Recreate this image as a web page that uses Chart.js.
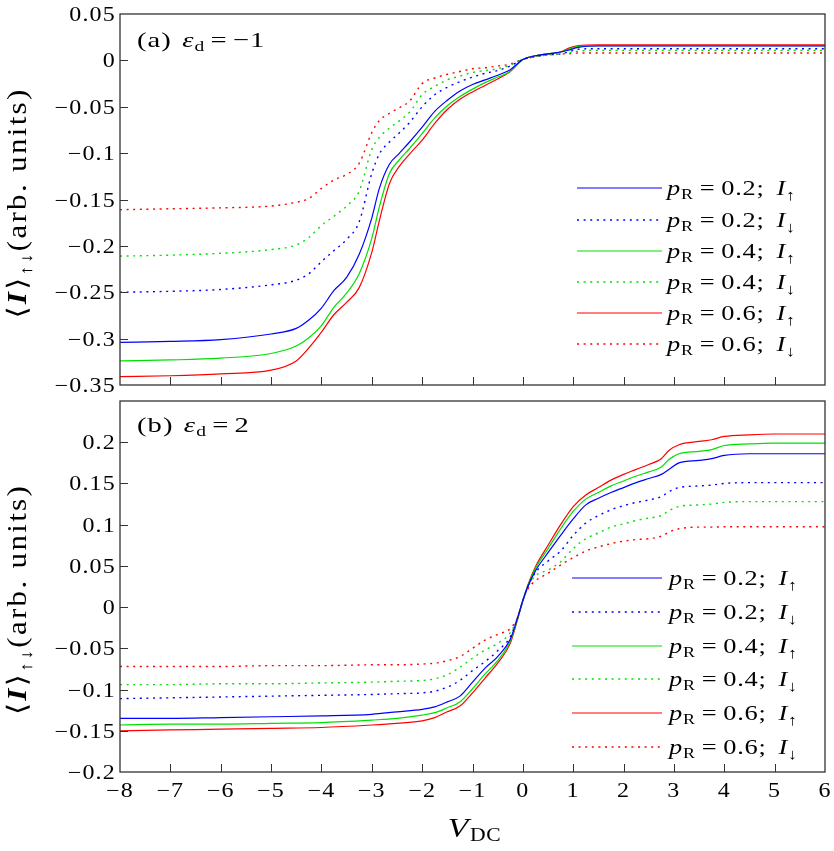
<!DOCTYPE html>
<html>
<head>
<meta charset="utf-8">
<script src="https://cdn.jsdelivr.net/npm/chart.js@4.4.1/dist/chart.umd.min.js"></script>
<style>
  body { margin: 0; background: #fff; }
  canvas { position: absolute; left: 0; }
</style>
</head>
<body>
<canvas id="chartA" width="834" height="395" style="top:0"></canvas>
<canvas id="chartB" width="834" height="456" style="top:395px"></canvas>
<script>
// ---- data ----
const pRValues = [0.2, 0.4, 0.6];
const spins = ['\u2191', '\u2193'];

// panel (a): eps_d = -1
const vdcA = [-8, -7, -6, -5, -4.5, -4.25, -4, -3.75, -3.5, -3.25, -3, -2.85, -2.65, -2.45, -2.25, -2,
  -1.75, -1.5, -1.25, -1, -0.75, -0.5, -0.25, 0, 0.25, 0.5, 0.75, 0.9, 1.1, 1.5, 2, 3, 4, 5, 6];
const aUp02 = [-0.304, -0.303, -0.301, -0.295, -0.289, -0.280, -0.267, -0.248, -0.234, -0.209, -0.170, -0.138, -0.112, -0.100, -0.088, -0.072,
  -0.055, -0.043, -0.033, -0.026, -0.021, -0.016, -0.010, 0.001, 0.005, 0.007, 0.009, 0.011, 0.014, 0.0155, 0.0155, 0.0155, 0.0155, 0.0155, 0.0155];
const aDn02 = [-0.250, -0.249, -0.247, -0.242, -0.237, -0.230, -0.217, -0.205, -0.193, -0.174, -0.122, -0.101, -0.088, -0.078, -0.067, -0.050,
  -0.037, -0.029, -0.023, -0.018, -0.014, -0.011, -0.006, 0.001, 0.004, 0.006, 0.007, 0.009, 0.012, 0.0126, 0.0126, 0.0126, 0.0126, 0.0126, 0.0126];
const aUp04 = [-0.324, -0.323, -0.321, -0.316, -0.308, -0.299, -0.286, -0.266, -0.251, -0.230, -0.192, -0.158, -0.122, -0.107, -0.095, -0.079,
  -0.062, -0.049, -0.039, -0.031, -0.024, -0.018, -0.012, 0.001, 0.005, 0.007, 0.009, 0.012, 0.015, 0.016, 0.016, 0.016, 0.016, 0.016, 0.016];
const aDn04 = [-0.211, -0.210, -0.208, -0.204, -0.199, -0.191, -0.178, -0.168, -0.157, -0.141, -0.096, -0.083, -0.073, -0.065, -0.056, -0.037,
  -0.028, -0.021, -0.017, -0.013, -0.011, -0.009, -0.005, 0.001, 0.004, 0.006, 0.007, 0.008, 0.010, 0.0108, 0.0108, 0.0108, 0.0108, 0.0108, 0.0108];
const aUp06 = [-0.341, -0.340, -0.338, -0.334, -0.324, -0.310, -0.293, -0.274, -0.261, -0.245, -0.207, -0.173, -0.133, -0.114, -0.101, -0.086,
  -0.068, -0.053, -0.042, -0.034, -0.027, -0.020, -0.012, 0.001, 0.005, 0.007, 0.009, 0.013, 0.016, 0.0168, 0.0168, 0.0168, 0.0168, 0.0168, 0.0168];
const aDn06 = [-0.161, -0.160, -0.159, -0.157, -0.153, -0.149, -0.138, -0.129, -0.123, -0.111, -0.078, -0.065, -0.057, -0.051, -0.044, -0.025,
  -0.019, -0.015, -0.012, -0.009, -0.008, -0.006, -0.004, 0.001, 0.004, 0.006, 0.007, 0.007, 0.008, 0.008, 0.008, 0.008, 0.008, 0.008, 0.008];

// panel (b): eps_d = 2
const vdcB = [-8, -7, -6, -5, -4, -3, -2.5, -2, -1.75, -1.5, -1.25, -1, -0.75, -0.5, -0.25, -0.1, 0,
  0.1, 0.25, 0.5, 0.75, 1, 1.25, 1.5, 1.75, 2, 2.25, 2.5, 2.75, 2.9, 3.1, 3.5, 3.75, 4, 4.5, 5, 6];
const bUp02 = [-0.135, -0.135, -0.134, -0.133, -0.132, -0.130, -0.127, -0.124, -0.121, -0.115, -0.108, -0.091, -0.074, -0.060, -0.039, -0.012, 0.008,
  0.025, 0.044, 0.066, 0.087, 0.107, 0.124, 0.132, 0.139, 0.145, 0.151, 0.156, 0.161, 0.167, 0.175, 0.178, 0.180, 0.184, 0.186, 0.186, 0.186];
const bDn02 = [-0.111, -0.110, -0.109, -0.108, -0.107, -0.106, -0.105, -0.104, -0.102, -0.097, -0.089, -0.077, -0.066, -0.053, -0.036, -0.012, 0.008,
  0.025, 0.042, 0.056, 0.068, 0.087, 0.102, 0.111, 0.118, 0.123, 0.127, 0.130, 0.134, 0.140, 0.145, 0.147, 0.148, 0.150, 0.151, 0.151, 0.151];
const bUp04 = [-0.143, -0.142, -0.142, -0.141, -0.140, -0.137, -0.135, -0.131, -0.128, -0.122, -0.115, -0.099, -0.081, -0.065, -0.041, -0.013, 0.008,
  0.026, 0.047, 0.071, 0.095, 0.116, 0.131, 0.139, 0.147, 0.153, 0.159, 0.164, 0.170, 0.179, 0.186, 0.189, 0.191, 0.196, 0.198, 0.199, 0.199];
const bDn04 = [-0.094, -0.094, -0.093, -0.093, -0.092, -0.091, -0.090, -0.089, -0.087, -0.082, -0.073, -0.062, -0.052, -0.044, -0.031, -0.012, 0.008,
  0.024, 0.038, 0.045, 0.055, 0.071, 0.083, 0.090, 0.097, 0.101, 0.105, 0.108, 0.111, 0.117, 0.122, 0.124, 0.125, 0.127, 0.128, 0.128, 0.128];
const bUp06 = [-0.150, -0.149, -0.148, -0.147, -0.146, -0.143, -0.141, -0.138, -0.134, -0.127, -0.120, -0.104, -0.086, -0.068, -0.044, -0.014, 0.008,
  0.027, 0.049, 0.075, 0.100, 0.122, 0.136, 0.145, 0.154, 0.161, 0.167, 0.173, 0.180, 0.190, 0.197, 0.201, 0.203, 0.207, 0.209, 0.210, 0.210];
const bDn06 = [-0.072, -0.072, -0.072, -0.071, -0.071, -0.070, -0.070, -0.069, -0.068, -0.065, -0.060, -0.050, -0.040, -0.033, -0.026, -0.012, 0.008,
  0.022, 0.032, 0.041, 0.051, 0.060, 0.068, 0.073, 0.077, 0.080, 0.082, 0.083, 0.086, 0.091, 0.095, 0.097, 0.097, 0.0975, 0.0975, 0.0975, 0.0975];

// ---- drawing helpers ----
const SERIF = '"Liberation Serif", "DejaVu Serif", serif';
const colors = ['#0000ff', '#00e000', '#ff0000'];

// parts: [text, size, style, dy, gapBefore]; hs = horizontal stretch, ls = letter spacing
function drawRich(ctx, parts, x, y, align, hs, ls) {
  ctx.save();
  ctx.letterSpacing = (ls || 0) + 'px';
  let w = 0;
  const items = parts.map(p => {
    const font = (p[2] || '') + ' ' + p[1] + 'px ' + SERIF;
    ctx.font = font;
    const it = { t: p[0], font: font, dy: p[3] || 0, gap: p[4] || 0, w: ctx.measureText(p[0]).width };
    w += it.w + it.gap;
    return it;
  });
  ctx.translate(x, y);
  ctx.scale(hs, 1);
  let cx = align === 'center' ? -w / 2 : (align === 'right' ? -w : 0);
  ctx.textAlign = 'left';
  ctx.textBaseline = 'alphabetic';
  ctx.fillStyle = '#000';
  for (const it of items) {
    cx += it.gap;
    ctx.font = it.font;
    ctx.fillText(it.t, cx, it.dy);
    cx += it.w;
  }
  ctx.restore();
}

function fmt(v) {
  const r = Math.round(v * 100) / 100;
  return r < 0 ? '\u2212' + String(-r) : String(r);
}

function makeSets(vdc, series) {
  return series.map((s, k) => ({
    label: 'pR = ' + pRValues[k >> 1] + '; I' + spins[k % 2],
    data: vdc.map((v, i) => ({ x: v, y: s[i] })),
    borderColor: colors[k >> 1],
    borderWidth: k % 2 ? 1.4 : 1.2,
    borderDash: k % 2 ? [2, 4.6] : [],
    pointRadius: 0,
    cubicInterpolationMode: 'monotone',
    fill: false
  }));
}

const deco = {
  id: 'deco',
  afterDraw(chart, args, o) {
    const ctx = chart.ctx;
    const a = chart.chartArea;
    const x = chart.scales.x, y = chart.scales.y;
    ctx.save();
    // inward tick marks
    ctx.strokeStyle = '#333';
    ctx.lineWidth = 1;
    ctx.beginPath();
    y.ticks.forEach((t, i) => {
      if (t.value <= y.min + 1e-9 || t.value >= y.max - 1e-9) return;
      const py = Math.round(y.getPixelForTick(i)) + 0.5;
      ctx.moveTo(a.left, py); ctx.lineTo(a.left + 8, py);
    });
    x.ticks.forEach((t, i) => {
      if (t.value <= x.min || t.value >= x.max) return;
      const px = Math.round(x.getPixelForTick(i)) + 0.5;
      ctx.moveTo(px, a.bottom); ctx.lineTo(px, a.bottom - 8);
    });
    ctx.stroke();
    ctx.lineWidth = 1.3;
    ctx.strokeRect(a.left, a.top, a.right - a.left, a.bottom - a.top);
    ctx.restore();

    // tick labels
    y.ticks.forEach((t, i) => {
      if (t.value > o.yLabelMax + 1e-9) return;
      drawRich(ctx, [[fmt(t.value), 20]], a.left - 4, y.getPixelForTick(i) + 7, 'right', 1.2, 1);
    });
    if (o.xLabels) {
      x.ticks.forEach((t, i) => {
        drawRich(ctx, [[fmt(t.value), 20]], x.getPixelForTick(i), a.bottom + 25, 'center', 1.2, 1);
      });
      drawRich(ctx, [['V', 28, 'italic'], ['DC', 18, '', 4, 1]], (a.left + a.right) / 2 + 2, a.bottom + 65, 'center', 1.2, 0.5);
    }

    // y-axis title, rotated
    ctx.save();
    ctx.translate(0, o.titleY);
    ctx.rotate(-Math.PI / 2);
    drawRich(ctx, [['\u27E8', 27], ['I', 27, 'italic bold'], ['\u27E9', 27], ['\u2191\u2193', 17, '', 6], ['(arb. units)', 27]],
      0, 26, 'center', 1.15, 2);
    ctx.restore();

    // panel label
    drawRich(ctx, [[o.panel, 22], ['\u03B5', 22, 'italic', 0, 8], ['d', 15, '', 4], ['=', 22, '', 0, 4], [o.eps, 22, '', 0, 4]],
      a.left + 17, o.panelY, 'left', 1.3, 0.8);

    // legend
    chart.data.datasets.forEach((ds, k) => {
      const ly = Math.round(o.legY + k * o.legDy);
      ctx.save();
      ctx.strokeStyle = ds.borderColor;
      ctx.lineWidth = ds.borderWidth;
      ctx.setLineDash(ds.borderDash);
      ctx.beginPath();
      ctx.moveTo(o.legX1, ly); ctx.lineTo(o.legX2, ly);
      ctx.stroke();
      ctx.restore();
      drawRich(ctx, [['p', 22, 'italic'], ['R', 15, '', 4], ['=', 22, '', 0, 5], [String(pRValues[k >> 1]), 22, '', 0, 5],
        [';', 22], ['I', 22, 'italic', 0, 10], [spins[k % 2], 15, '', 5]], o.legTx, ly + 7, 'left', 1.2, 0.6);
    });
  }
};

function makeChart(id, vdc, series, yMin, yMax, xHeight, pad, o) {
  return new Chart(document.getElementById(id), {
    type: 'line',
    data: { datasets: makeSets(vdc, series) },
    plugins: [deco],
    options: {
      responsive: false,
      animation: false,
      devicePixelRatio: 1,
      layout: { padding: pad },
      scales: {
        x: {
          type: 'linear', min: -8, max: 6,
          ticks: { display: false, stepSize: 1, autoSkip: false },
          grid: { display: false }, border: { display: false },
          afterFit: s => { s.height = xHeight; }
        },
        y: {
          min: yMin, max: yMax,
          ticks: { display: false, stepSize: 0.05 },
          grid: { display: false }, border: { display: false },
          afterFit: s => { s.width = 120; }
        }
      },
      plugins: {
        legend: { display: false },
        tooltip: { enabled: false },
        deco: o
      }
    }
  });
}

makeChart('chartA', vdcA, [aUp02, aDn02, aUp04, aDn04, aUp06, aDn06], -0.35, 0.05, 0,
  { top: 14, right: 9, bottom: 10, left: 0 },
  { yLabelMax: 0.05, xLabels: false, titleY: 203, panel: '(a)', eps: '\u22121', panelY: 47,
    legX1: 577, legX2: 662, legTx: 667, legY: 188.3, legDy: 31.2 });

makeChart('chartB', vdcB, [bUp02, bDn02, bUp04, bDn04, bUp06, bDn06], -0.2, 0.25, 79,
  { top: 6, right: 9, bottom: 0, left: 0 },
  { yLabelMax: 0.2, xLabels: true, titleY: 204.5, panel: '(b)', eps: '2', panelY: 37,
    legX1: 572, legX2: 662, legTx: 669, legY: 183.3, legDy: 33.7 });
</script>
</body>
</html>
